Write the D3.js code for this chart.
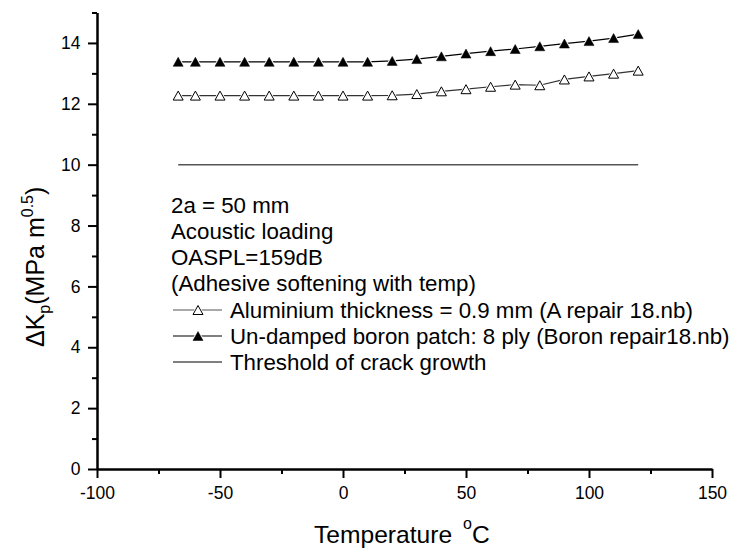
<!DOCTYPE html>
<html>
<head>
    <meta charset="utf-8">
    <title>Delta K vs temperature</title>
    <script src="https://d3js.org/d3.v7.min.js"></script>
    <style>
        body { margin: 0; background: white; }
        svg { font-family: "Liberation Sans", Arial, sans-serif; }
        .axis path, .axis line { stroke: black; stroke-width: 2; }
        .axis text { font-size: 17.5px; fill: black; font-family: "Liberation Sans", Arial, sans-serif; }
    </style>
</head>
<body>
<div id="chart"></div>
<script>
// temperatures (deg C)
const temps = [-67, -60, -50, -40, -30, -20, -10, 0, 10, 20, 30, 40, 50, 60, 70, 80, 90, 100, 110, 120];
// Aluminium thickness = 0.9 mm (open triangles)
const aluminiumK = [12.27, 12.27, 12.27, 12.27, 12.27, 12.27, 12.27, 12.27, 12.27, 12.28,
                    12.32, 12.41, 12.48, 12.56, 12.63, 12.61, 12.80, 12.90, 12.99, 13.09];
// Un-damped boron patch (filled triangles)
const boronK = [13.38, 13.38, 13.38, 13.38, 13.38, 13.38, 13.38, 13.38, 13.38, 13.41,
                13.47, 13.56, 13.65, 13.73, 13.80, 13.89, 13.98, 14.06, 14.16, 14.29];
// threshold of crack growth
const thresholdT = [-67, 120];
const thresholdK = [10, 10];

const xMajor = [-100, -50, 0, 50, 100, 150];
const xMinor = [-75, -25, 25, 75, 125];
const yMajor = [0, 2, 4, 6, 8, 10, 12, 14];
const yMinor = [1, 3, 5, 7, 9, 11, 13, 15];

const notes = ["2a = 50 mm", "Acoustic loading", "OASPL=159dB", "(Adhesive softening with temp)"];
const legendLabels = [
    "Aluminium thickness = 0.9 mm (A repair 18.nb)",
    "Un-damped boron patch: 8 ply (Boron repair18.nb)",
    "Threshold of crack growth"
];

const width = 732, height = 549;

const svg = d3.select("#chart").append("svg")
    .attr("width", width)
    .attr("height", height);

const x = d3.scaleLinear().domain([-100, 150]).range([97, 712]);
const y = d3.scaleLinear().domain([0, 15]).range([469, 12.5]);

// triangle centred on its bounding box
const tri = {
    draw(ctx, size) {
        const w = Math.sqrt(size);
        const h = w * 0.9;
        ctx.moveTo(0, -h / 2);
        ctx.lineTo(w / 2, h / 2);
        ctx.lineTo(-w / 2, h / 2);
        ctx.closePath();
    }
};
const triPath = d3.symbol(tri, 100)();
const haloPath = d3.symbol(tri, 240)();

// axes
svg.append("g").attr("class", "axis")
    .attr("transform", `translate(0,${y(0)})`)
    .call(d3.axisBottom(x).tickValues(xMinor).tickSize(5).tickSizeOuter(0).tickFormat(""));
svg.append("g").attr("class", "axis")
    .attr("transform", `translate(0,${y(0)})`)
    .call(d3.axisBottom(x).tickValues(xMajor).tickSize(9).tickPadding(8.5).tickSizeOuter(0)
        .tickFormat(d => String(d)));

svg.append("g").attr("class", "axis")
    .attr("transform", `translate(${x(-100)},0)`)
    .call(d3.axisLeft(y).tickValues(yMinor).tickSize(5).tickSizeOuter(0).tickFormat(""));
svg.append("g").attr("class", "axis")
    .attr("transform", `translate(${x(-100)},0)`)
    .call(d3.axisLeft(y).tickValues(yMajor).tickSize(9).tickPadding(7.5).tickSizeOuter(0)
        .tickFormat(d => String(d)));

// threshold line
svg.append("path")
    .datum(thresholdT.map((t, i) => [t, thresholdK[i]]))
    .attr("fill", "none")
    .attr("stroke", "#555")
    .attr("stroke-width", 1.5)
    .attr("d", d3.line().x(d => x(d[0])).y(d => y(d[1])));

const line = d3.line().x(d => x(d.t)).y(d => y(d.k));

function drawSeries(values, filled, lineColor) {
    const pts = temps.map((t, i) => ({ t: t, k: values[i] }));
    svg.append("path")
        .datum(pts)
        .attr("fill", "none")
        .attr("stroke", lineColor)
        .attr("stroke-width", 1.2)
        .attr("d", line);
    const g = svg.append("g");
    g.selectAll(".halo").data(pts).enter().append("path")
        .attr("class", "halo")
        .attr("d", haloPath)
        .attr("fill", "white")
        .attr("transform", d => `translate(${x(d.t)},${y(d.k)})`);
    g.selectAll(".mark").data(pts).enter().append("path")
        .attr("class", "mark")
        .attr("d", triPath)
        .attr("fill", filled ? "black" : "white")
        .attr("stroke", "black")
        .attr("stroke-width", filled ? 0.5 : 1)
        .attr("transform", d => `translate(${x(d.t)},${y(d.k)})`);
}

drawSeries(aluminiumK, false, "#333");
drawSeries(boronK, true, "black");

// annotation text
const textSize = 22.3;
svg.append("g").selectAll("text")
    .data(notes)
    .enter().append("text")
    .attr("x", 171)
    .attr("y", (d, i) => 213 + i * 26)
    .attr("font-size", textSize)
    .attr("fill", "black")
    .text(d => d);

// legend
const legendY = [310, 336, 362];
const legend = svg.append("g");
legendLabels.forEach((label, i) => {
    const ly = legendY[i];
    legend.append("line")
        .attr("x1", 173).attr("x2", 222)
        .attr("y1", ly).attr("y2", ly)
        .attr("stroke", i === 1 ? "black" : "#555")
        .attr("stroke-width", i === 2 ? 1.5 : 1.2);
    if (i < 2) {
        legend.append("path").attr("d", haloPath).attr("fill", "white")
            .attr("transform", `translate(198,${ly})`);
        legend.append("path").attr("d", triPath)
            .attr("fill", i === 1 ? "black" : "white")
            .attr("stroke", "black")
            .attr("stroke-width", i === 1 ? 0.5 : 1)
            .attr("transform", `translate(198,${ly})`);
    }
    legend.append("text")
        .attr("x", 230)
        .attr("y", ly + 7.5)
        .attr("font-size", textSize)
        .attr("fill", "black")
        .text(label);
});

// x axis title
const xt = svg.append("text")
    .attr("x", 314)
    .attr("y", 542.5)
    .attr("font-size", 24.6)
    .attr("fill", "black");
xt.append("tspan").text("Temperature");
xt.append("tspan").attr("font-size", 16).attr("dx", 11).attr("dy", -14).text("o");
xt.append("tspan").attr("dy", 14).text("C");

// y axis title
const yt = svg.append("text")
    .attr("transform", "translate(44,347) rotate(-90)")
    .attr("font-size", 25)
    .attr("fill", "black");
yt.append("tspan").text("\u0394K");
yt.append("tspan").attr("font-size", 16).attr("dy", 6).text("p");
yt.append("tspan").attr("dy", -6).text("(MPa m");
yt.append("tspan").attr("font-size", 16).attr("dy", -11).text("0.5");
yt.append("tspan").attr("dy", 11).text(")");
</script>
</body>
</html>
